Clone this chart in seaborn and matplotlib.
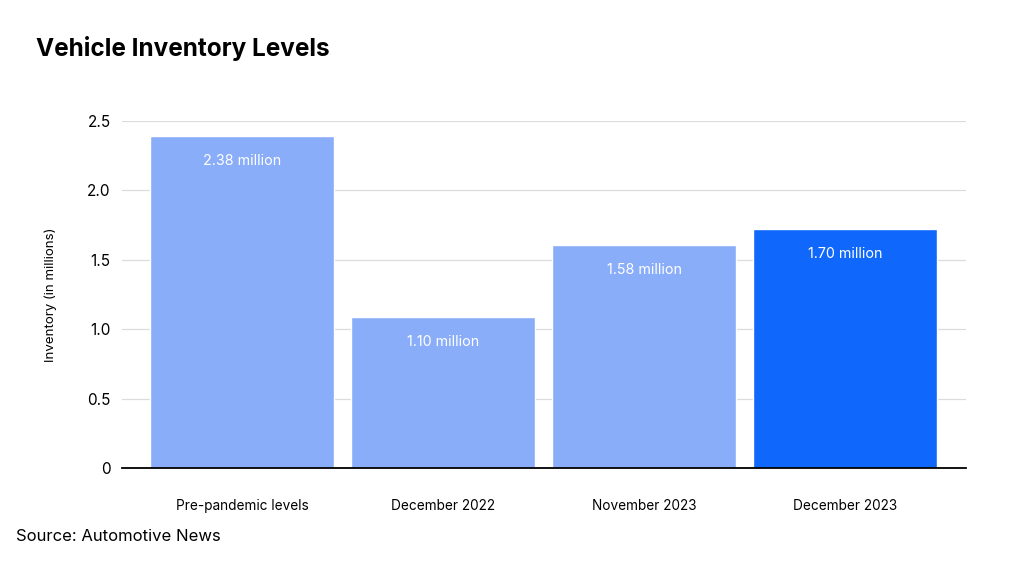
import matplotlib
matplotlib.use("Agg")
import matplotlib.pyplot as plt
import seaborn as sns
import pandas as pd

categories = ["Pre-pandemic levels", "December 2022", "November 2023", "December 2023"]
inventory = [2.39, 1.09, 1.61, 1.72]
bar_labels = ["2.38 million", "1.10 million", "1.58 million", "1.70 million"]
bar_colors = ["#8aadfa", "#8aadfa", "#8aadfa", "#0f67fb"]
y_ticks = [0, 0.5, 1.0, 1.5, 2.0, 2.5]
y_tick_labels = ["0", "0.5", "1.0", "1.5", "2.0", "2.5"]

sns.set_theme(style="white")
plt.rcParams["font.family"] = ["Inter", "DejaVu Sans"]

df = pd.DataFrame({"category": categories, "inventory": inventory})

fig = plt.figure(figsize=(10.24, 5.65), dpi=100)
ax = fig.add_axes([0.119, 0.1717, 0.824, 0.6142])

sns.barplot(data=df, x="category", y="inventory", hue="category",
            palette=bar_colors, width=0.915, legend=False, ax=ax,
            saturation=1)

ax.set_xlim(-0.6, 3.6)
ax.set_ylim(0, 2.5)
ax.set_yticks(y_ticks)
ax.set_yticklabels(y_tick_labels, fontsize=11, color="black")
ax.yaxis.grid(True, color="#dcdcdc", linewidth=0.9)
ax.set_axisbelow(True)
ax.tick_params(axis="both", length=0)
ax.tick_params(axis="y", pad=8)
ax.tick_params(axis="x", pad=22, labelsize=9.8, labelcolor="black")

for s in ["top", "right", "left"]:
    ax.spines[s].set_visible(False)
ax.spines["bottom"].set_color("black")
ax.spines["bottom"].set_linewidth(1.3)

ax.set_xlabel("")
ax.set_ylabel("Inventory (in millions)", fontsize=9.6, color="black", labelpad=22)

for i, (v, lab) in enumerate(zip(inventory, bar_labels)):
    ax.annotate(lab, xy=(i, v), xytext=(0, -18), textcoords="offset points",
                ha="center", va="center", color="white", fontsize=10.3)

fig.text(0.035, 0.914, "Vehicle Inventory Levels", fontsize=17.5, fontweight="bold",
         color="black", va="center", ha="left")
fig.text(0.016, 0.051, "Source: Automotive News", fontsize=12, color="black",
         va="center", ha="left")

fig.savefig("out.png", dpi=100)
